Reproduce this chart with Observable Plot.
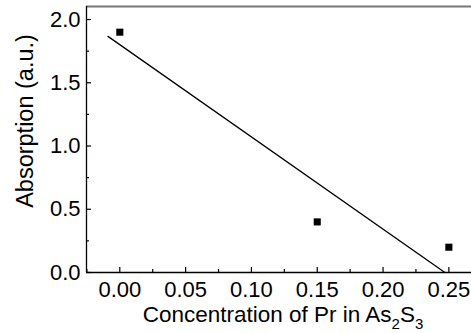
<!DOCTYPE html>
<html>
<head>
<meta charset="utf-8">
<script src="https://cdn.jsdelivr.net/npm/d3@7"></script>
<script src="https://cdn.jsdelivr.net/npm/@observablehq/plot@0.6"></script>
<style>
  html, body { margin: 0; padding: 0; background: #fff; }
  svg { font-family: "Liberation Sans", Arial, sans-serif; }
</style>
</head>
<body>
<div id="chart"></div>
<script>
// Data
const concentration = [0.00, 0.15, 0.25];
const absorption = [1.90, 0.40, 0.20];
// Linear fit line endpoints (as drawn)
const fitX = [-0.009, 0.247];
const fitY = [1.867, 0.0];
// Ticks
const xMajor = [0.00, 0.05, 0.10, 0.15, 0.20, 0.25];
const xMinor = [-0.025, 0.025, 0.075, 0.125, 0.175, 0.225];
const yMajor = [0.0, 0.5, 1.0, 1.5, 2.0];
const yMinor = [0.25, 0.75, 1.25, 1.75];
const xTitle = ["Concentration of Pr in As", "2", "S", "3"];
const yTitle = "Absorption (a.u.)";

const points = concentration.map((c, i) => ({x: c, y: absorption[i]}));
const fit = fitX.map((x, i) => ({x, y: fitY[i]}));

const xDomain = [-0.0253, 0.2672];
const yDomain = [0, 2.103];
const fs = 22;

const plot = Plot.plot({
  width: 471,
  height: 333,
  marginLeft: 86,
  marginRight: 0,
  marginTop: 6,
  marginBottom: 61,
  style: {fontFamily: '"Liberation Sans", Arial, sans-serif', background: "white", overflow: "visible"},
  x: {domain: xDomain, axis: null},
  y: {domain: yDomain, axis: null},
  marks: [
    Plot.ruleY([yDomain[1]], {stroke: "#777", strokeWidth: 2}),
    Plot.ruleX([xDomain[0]], {stroke: "#000", strokeWidth: 1.3}),
    Plot.ruleY([0], {stroke: "#000", strokeWidth: 1.3}),
    Plot.axisY(yMajor, {tickSize: 0, tickPadding: 6, fontSize: fs, tickFormat: d => d.toFixed(1), label: null, color: "#000"}),
    Plot.axisY(yMajor, {tickSize: -5, tickFormat: () => "", label: null, strokeWidth: 1.2}),
    Plot.axisY(yMinor, {tickSize: -3, tickFormat: () => "", label: null, strokeWidth: 1.2}),
    Plot.axisX(xMajor, {tickSize: 0, tickPadding: 9, fontSize: fs, tickFormat: d => d.toFixed(2), label: null, color: "#000"}),
    Plot.axisX(xMajor, {tickSize: -5, tickFormat: () => "", label: null, strokeWidth: 1.2}),
    Plot.axisX(xMinor, {tickSize: -3, tickFormat: () => "", label: null, strokeWidth: 1.2}),
    Plot.line(fit, {x: "x", y: "y", stroke: "#000", strokeWidth: 1.3}),
    Plot.dot(points, {x: "x", y: "y", symbol: "square", r: 4, fill: "#000", stroke: "none"})
  ]
});

document.getElementById("chart").appendChild(plot);

// Axis titles as real SVG text
const ns = "http://www.w3.org/2000/svg";
const svg = plot.tagName.toLowerCase() === "svg" ? plot : plot.querySelector("svg");

const xt = document.createElementNS(ns, "text");
xt.setAttribute("x", 283);
xt.setAttribute("y", 322);
xt.setAttribute("text-anchor", "middle");
xt.setAttribute("font-size", 22.5);
xt.setAttribute("fill", "#000");
xTitle.forEach((s, i) => {
  const t = document.createElementNS(ns, "tspan");
  t.textContent = s;
  if (i % 2 === 1) {
    t.setAttribute("font-size", 15);
    t.setAttribute("dy", 7);
  } else if (i > 0) {
    t.setAttribute("dy", -7);
  }
  xt.appendChild(t);
});
svg.appendChild(xt);

const yt = document.createElementNS(ns, "text");
yt.setAttribute("transform", "translate(33,121) rotate(-90)");
yt.setAttribute("text-anchor", "middle");
yt.setAttribute("font-size", 23.5);
yt.setAttribute("fill", "#000");
yt.textContent = yTitle;
svg.appendChild(yt);
</script>
</body>
</html>
